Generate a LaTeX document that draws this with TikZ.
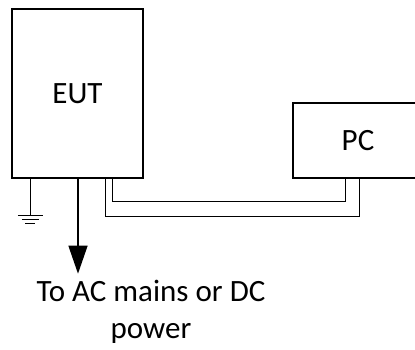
\documentclass[tikz,border=0pt]{standalone}
\usepackage{fontspec}
\setmainfont{Carlito}
\usetikzlibrary{calc,arrows.meta}
\begin{document}
\begin{tikzpicture}[x=1pt,y=-1pt,
  box/.style={draw,line width=1.4pt,rectangle,inner sep=0pt,font=\fontsize{31}{37}\selectfont},
  wire/.style={line width=1.4pt},
  lbl/.style={font=\fontsize{31}{37}\selectfont,align=center,inner sep=0pt}]
\useasboundingbox (0,0) rectangle (415,350);
\clip (0,0) rectangle (415,350);
\node[box,minimum width=131pt,minimum height=169pt] (EUT) at (77.5,93.5) {EUT};
\node[box,minimum width=130pt,minimum height=75pt] (PC) at (358,140.5) {PC};
% ground
\coordinate (g0) at ($(EUT.south west)+(19,0)$);
\coordinate (g1) at ($(g0)+(0,37)$);
\draw[wire] (g0) -- (g1);
\draw[wire] ($(g1)+(-12.5,0)$) -- ($(g1)+(12.5,0)$);
\draw[wire] ($(g1)+(-8.5,4)$) -- ($(g1)+(8.5,4)$);
\draw[wire] ($(g1)+(-5,8)$) -- ($(g1)+(5,8)$);
% power arrow
\node[lbl,anchor=base] (txt) at (151,338) {To AC mains or DC\\power};
\coordinate (a1) at ($(EUT.south)+(0.5,95)$);
\draw[wire,-{Triangle[width=19pt,length=28pt]}] ($(EUT.south)+(0.5,0)$) -- (a1);
% cable
\draw[wire] ($(EUT.south west)+(94,0)$) |- ($(PC.south west)+(67,38)$) -- ($(PC.south west)+(67,0)$);
\draw[wire] ($(EUT.south west)+(101,0)$) |- ($(PC.south west)+(53,23)$) -- ($(PC.south west)+(53,0)$);
\end{tikzpicture}
\end{document}
